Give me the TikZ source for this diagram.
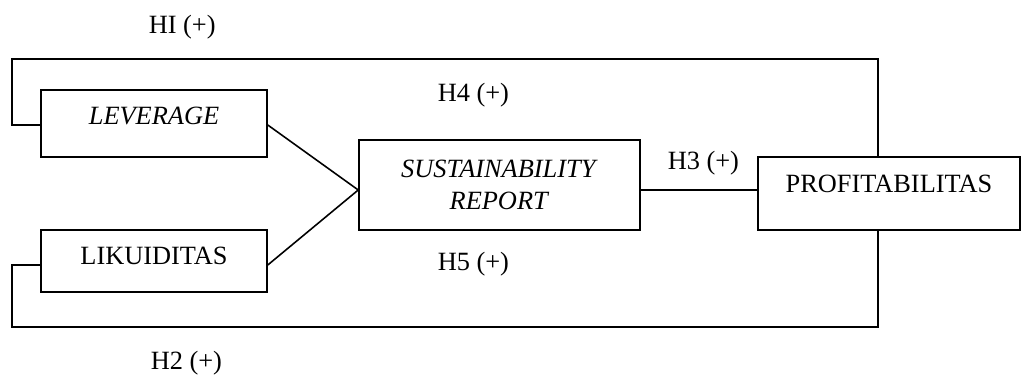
\documentclass[tikz,border=0pt]{standalone}
\usepackage{fontspec}
\setmainfont{Liberation Serif}

\begin{document}
\begin{tikzpicture}[x=0.02cm, y=-0.02cm, line width=0.9pt,
        every node/.style={font=\fontsize{15}{18.2}\selectfont},
        varbox/.style={draw, rectangle, inner sep=0pt},
        hlabel/.style={anchor=base west, inner sep=0pt}]
        \useasboundingbox (0,0) rectangle (1021,381);

        \node[varbox, minimum width=4.52cm, text height=0.70cm, text depth=0.64cm] (lev) at (154,123.5) {\textit{LEVERAGE}};
        \node[varbox, minimum width=4.52cm, text height=0.70cm, text depth=0.54cm] (lik) at (154,261) {LIKUIDITAS};
        \node[varbox, minimum width=5.62cm, minimum height=1.80cm, align=center] (sr) at (499.5,185) {\textit{SUSTAINABILITY}\\\textit{REPORT}};
        \node[varbox, minimum width=5.24cm, text height=0.72cm, text depth=0.74cm] (prof) at (889,193.5) {PROFITABILITAS};

        \coordinate (srin) at ([yshift=-0.1cm]sr.west);
        \coordinate (srout) at ([yshift=-0.1cm]sr.east);
        \coordinate (ptop) at ([xshift=-0.22cm]prof.north);
        \coordinate (pbot) at ([xshift=-0.22cm]prof.south);
        \coordinate (topleft) at (12,59);
        \coordinate (botleft) at (12,327);

        \draw (lev.base east) -- (srin);
        \draw (lik.base east) -- (srin);
        \draw (srout) -- (srout -| prof.west);
        \draw (lev.base west) -| (topleft) -| (ptop);
        \draw (lik.base west) -| (botleft) -| (pbot);

        \node[hlabel] (h1) at (148,34) {HI (+)};
        \node[hlabel] (h4) at (437,102) {H4 (+)};
        \node[hlabel] (h3) at (667,170) {H3 (+)};
        \node[hlabel] (h5) at (437,271) {H5 (+)};
        \node[hlabel] (h2) at (150,370) {H2 (+)};
\end{tikzpicture}
\end{document}
